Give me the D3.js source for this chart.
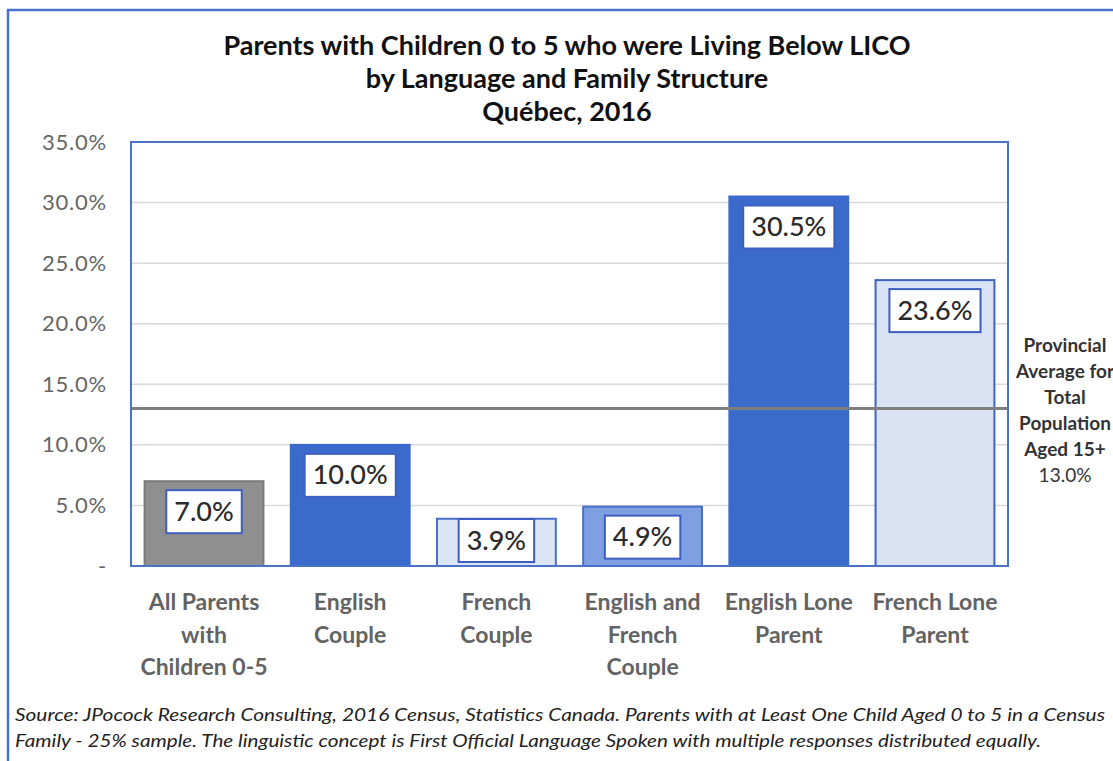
<!DOCTYPE html>
<html><head><meta charset="utf-8">
<script src="https://cdn.jsdelivr.net/npm/d3@7"></script>
<style>body{margin:0;background:#fff}svg{display:block}text{font-family:Lato,"Open Sans",sans-serif}</style>
</head><body><svg id="c" width="1113" height="761"></svg>
<script>
const categories = [["All Parents","with","Children 0-5"],["English","Couple"],["French","Couple"],["English and","French","Couple"],["English Lone","Parent"],["French Lone","Parent"]];
const values = [7.0, 10.0, 3.9, 4.9, 30.5, 23.6];
const valueLabels = ["7.0%","10.0%","3.9%","4.9%","30.5%","23.6%"];
const barFills = ["#8f8f8f","#3a6bcb","#dbe5f5","#7e9fe2","#3a6bcb","#d9e3f3"];
const barStrokes = ["#7a7a7a","#3a6bcb","#4a6fc9","#4a6fc9","#3a6bcb","#3f63c4"];
const yTicks = [0,5,10,15,20,25,30,35];
const provincialAvg = 13.0;
const avgLabel = ["Provincial","Average for","Total","Population","Aged 15+","13.0%"];
const titleLines = ["Parents with Children 0 to 5 who were Living Below LICO","by Language and Family Structure","Québec, 2016"];
const sourceLines = ["Source: JPocock Research Consulting, 2016 Census, Statistics Canada. Parents with at Least One Child Aged 0 to 5 in a Census","Family - 25% sample. The linguistic concept is First Official Language Spoken with multiple responses distributed equally."];

const svg = d3.select("#c");
const L=131, R=1008, T=142, B=566;
const x = d3.scaleBand().domain(d3.range(values.length)).range([L,R]).paddingInner(0.187).paddingOuter(0.093);
const y = d3.scaleLinear().domain([0,35]).range([B,T]);

// outer frame
svg.append("rect").attr("x",8).attr("y",10).attr("width",1120).attr("height",770).attr("fill","#fff").attr("stroke","#4a72c8").attr("stroke-width",2.5);

// title
svg.selectAll(".title").data(titleLines).join("text")
  .attr("x",567).attr("y",(d,i)=>55+i*33).attr("text-anchor","middle")
  .attr("font-size",27).attr("font-weight","bold").attr("fill","#111").text(d=>d);

// gridlines
svg.append("g").selectAll("line").data(yTicks.filter(t=>t>0&&t<35)).join("line")
  .attr("x1",L).attr("x2",R).attr("y1",d=>y(d)).attr("y2",d=>y(d))
  .attr("stroke","#d9d9d9").attr("stroke-width",1.5);

// y axis labels
const yAxis = d3.axisLeft(y).tickValues(yTicks).tickSize(0).tickPadding(24)
  .tickFormat(d=> d===0 ? "-" : d.toFixed(1)+"%");
const ga = svg.append("g").attr("transform",`translate(${L},0)`).call(yAxis);
ga.select(".domain").remove();
ga.selectAll("text").attr("font-size",22).attr("letter-spacing",0.8).attr("fill","#666").attr("font-family","Lato,sans-serif");

// bars
svg.append("g").selectAll("rect").data(values).join("rect")
  .attr("x",(d,i)=>x(i)).attr("width",x.bandwidth())
  .attr("y",d=>y(d)).attr("height",d=>B-y(d))
  .attr("fill",(d,i)=>barFills[i]).attr("stroke",(d,i)=>barStrokes[i]).attr("stroke-width",2);

// average line
svg.append("line").attr("x1",L).attr("x2",R).attr("y1",y(provincialAvg)).attr("y2",y(provincialAvg))
  .attr("stroke","#7f7f7f").attr("stroke-width",3);

// plot border
svg.append("rect").attr("x",L).attr("y",T).attr("width",R-L).attr("height",B-T)
  .attr("fill","none").attr("stroke","#4a72c8").attr("stroke-width",2);

// value label boxes
const boxH = 43;
const lg = svg.append("g").selectAll("g").data(values).join("g");
lg.each(function(d,i){
  const g = d3.select(this);
  const cx = x(i)+x.bandwidth()/2;
  const top = Math.min(y(d)+9, B-4-boxH);
  const t = g.append("text").attr("x",cx).attr("y",top+boxH/2+9).attr("text-anchor","middle")
    .attr("font-size",27).attr("font-weight",500).attr("fill","#2b2b2b").text(valueLabels[i]);
  const w = t.node().getComputedTextLength()+16;
  g.insert("rect","text").attr("x",cx-w/2).attr("y",top).attr("width",w).attr("height",boxH)
    .attr("fill","#fff").attr("stroke","#3d5fc2").attr("stroke-width",2);
});

// x labels
const xl = svg.append("g").selectAll("text").data(categories).join("text")
  .attr("x",(d,i)=>x(i)+x.bandwidth()/2).attr("y",610).attr("text-anchor","middle")
  .attr("font-size",23).attr("font-weight","bold").attr("fill","#636363");
xl.selectAll("tspan").data(d=>d).join("tspan").attr("x",function(){return this.parentNode.getAttribute("x");})
  .attr("dy",(d,i)=>i===0?0:32.5).text(d=>d);

// average annotation
svg.append("g").selectAll("text").data(avgLabel).join("text")
  .attr("x",1065).attr("y",(d,i)=>352+i*26).attr("text-anchor","middle")
  .attr("font-size",19).attr("font-weight",(d,i)=>i<5?"bold":"normal").attr("fill","#333").text(d=>d);

// source
svg.append("g").selectAll("text").data(sourceLines).join("text")
  .attr("x",15).attr("y",(d,i)=>721+i*26).attr("font-size",17).attr("font-style","italic")
  .attr("fill","#222").attr("textLength",(d,i)=>i===0?1090:1026).attr("lengthAdjust","spacingAndGlyphs").text(d=>d);
</script></body></html>
